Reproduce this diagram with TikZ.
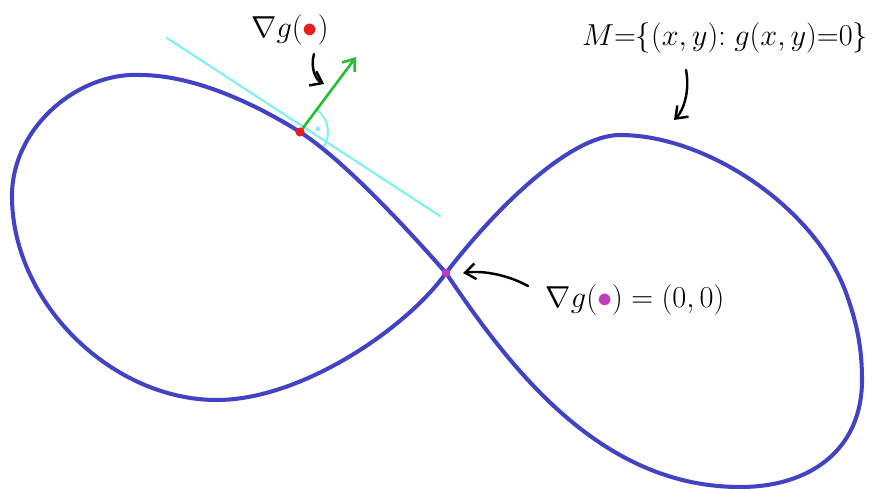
\documentclass[tikz,border=0pt]{standalone}
\usetikzlibrary{arrows.meta}
\definecolor{curveblue}{RGB}{66,66,196}
\definecolor{tcyan}{RGB}{125,240,240}
\definecolor{ggreen}{RGB}{40,190,50}
\definecolor{pred}{RGB}{232,30,30}
\definecolor{ppurple}{RGB}{190,60,190}
\tikzset{
  curve/.style={draw=curveblue,line width=2.3pt,line join=round},
  tangent/.style={draw=tcyan,line width=1.2pt,line cap=round},
  ptr/.style={draw=black,line width=1.4pt,line cap=round,-{Straight Barb[length=6pt,width=9pt,line width=1.4pt]}},
  lbl/.style={font=\fontsize{19}{22}\selectfont,inner sep=0pt}
}
\begin{document}
\begin{tikzpicture}[x=0.02cm,y=-0.02cm]
\useasboundingbox (0,0) rectangle (876,489);
\coordinate (P) at (300,132);
\coordinate (O) at (446,273);
\coordinate (T1) at (167,38);
\coordinate (T2) at (440,216);
\coordinate (G) at (356,57);
% lemniscate-like curve
\draw[curve] (O) .. controls (410,232) and (345,161) .. (P)
  .. controls (249,100) and (190,75) .. (140,75)
  .. controls (80,72) and (14,125) .. (12,193)
  .. controls (10,300) and (110,400) .. (217,400)
  .. controls (300,400) and (405,330) .. (O)
  .. controls (495,209) and (570,135) .. (620,135)
  .. controls (705,135) and (812,205) .. (845,290)
  .. controls (856,320) and (862,345) .. (862,380)
  .. controls (862,450) and (810,487) .. (740,487)
  .. controls (600,487) and (510,368) .. (O);
% tangent line
\draw[tangent] (T1) -- (T2);
% right angle mark
\draw[tcyan,line width=1.1pt] (P) ++(-32:0.56cm) arc[start angle=-32,end angle=53,radius=0.56cm];
\fill[tcyan] (P) ++(10:0.36cm) circle (1.3pt);
% gradient arrow
\draw[ggreen,line width=1.5pt,line cap=round,-{Straight Barb[length=6pt,width=9pt,line width=1.5pt]}] (P) -- (G);
\fill[pred] (P) circle (2.6pt);
\fill[ppurple] (O) circle (2.4pt);
% labels
\node[lbl] (L1) at (290,30) {$\nabla g(\textcolor{pred}{\bullet})$};
\node[lbl,font=\fontsize{18}{21}\selectfont] (L2) at (725,38) {$M{=}\{(x,y){:}\;g(x,y){=}0\}$};
\node[lbl] (L3) at (635,300) {$\nabla g(\textcolor{ppurple}{\bullet})=(0,0)$};
% pointer arrows
\coordinate (A1s) at (314,54);
\coordinate (A1e) at (324,84);
\draw[ptr] (A1s) .. controls (310,68) and (316,80) .. (A1e);
\coordinate (A2s) at (686,70);
\coordinate (A2e) at (674,120);
\draw[ptr] (A2s) .. controls (690,90) and (684,110) .. (A2e);
\coordinate (A3s) at (528,286);
\coordinate (A3e) at (463,273);
\draw[ptr] (A3s) .. controls (510,276) and (485,270) .. (A3e);
\end{tikzpicture}
\end{document}
